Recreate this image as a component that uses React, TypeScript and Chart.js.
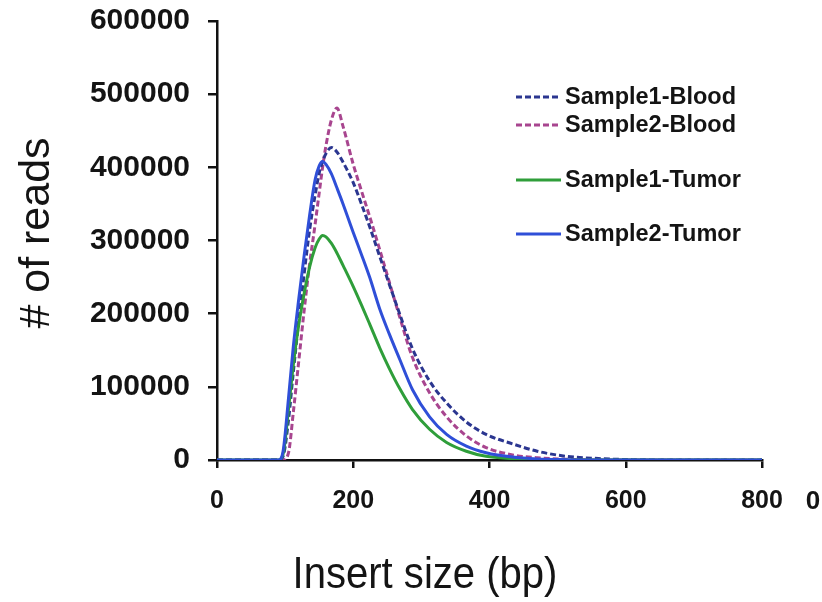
import React, { useEffect, useRef } from "react";
import { Chart, registerables } from "chart.js";

Chart.register(...registerables);

const insertSizes = [0, 90, 97, 105, 112, 120, 128, 136, 144, 150, 155, 160, 168, 176, 185, 200, 212, 224, 239, 253, 268, 287, 312, 337, 366, 395, 434, 470, 513, 560, 610, 700, 800];

const sample1Blood = [0, 0, 5000, 55000, 120000, 190000, 255000, 315000, 362000, 392000, 408000, 419000, 427000, 421000, 407000, 379000, 350000, 319000, 278000, 240000, 200000, 152000, 108000, 78000, 52000, 35000, 22000, 12000, 5000, 2000, 500, 0, 0];
const sample2Blood = [0, 0, 0, 10000, 65000, 135000, 205000, 268000, 322000, 365000, 400000, 430000, 465000, 481000, 456000, 404000, 368000, 333000, 287000, 243000, 196000, 140000, 92000, 59000, 33000, 17000, 7000, 3000, 1000, 0, 0, 0, 0];
const sample1Tumor = [0, 0, 8000, 70000, 130000, 185000, 228000, 264000, 290000, 302000, 307000, 305000, 296000, 283000, 266000, 237000, 212000, 186000, 153000, 125000, 98000, 69000, 42000, 24000, 12000, 5000, 2000, 500, 0, 0, 0, 0, 0];
const sample2Tumor = [0, 0, 12000, 85000, 155000, 220000, 280000, 335000, 383000, 402000, 408000, 404000, 391000, 372000, 350000, 311000, 281000, 250000, 206000, 172000, 138000, 96000, 59000, 35000, 19000, 10000, 4000, 1500, 500, 0, 0, 0, 0];

const seriesNames = ["Sample1-Blood", "Sample2-Blood", "Sample1-Tumor", "Sample2-Tumor"];
const xTicks = [0, 200, 400, 600, 800];
const yTicks = [0, 100000, 200000, 300000, 400000, 500000, 600000];
const xTitle = "Insert size (bp)";
const yTitle = "# of reads";
const strayLabel = "0";

const ARIAL = '"Liberation Sans", Arial, sans-serif';

const toPoints = (vals: number[]) => insertSizes.map((x, i) => ({ x, y: vals[i] }));

const legendRows = [97, 125, 180, 234];

const overlayPlugin = {
  id: "overlay",
  afterDraw(chart: any) {
    const ctx = chart.ctx as CanvasRenderingContext2D;
    ctx.save();
    ctx.fillStyle = "#141414";
    ctx.font = `43px ${ARIAL}`;
    ctx.textAlign = "center";
    ctx.textBaseline = "middle";
    ctx.save();
    ctx.translate(37, 233);
    ctx.rotate(-Math.PI / 2);
    ctx.fillText(yTitle, 0, 0);
    ctx.restore();
    ctx.save();
    ctx.translate(425, 576);
    ctx.scale(0.89, 1);
    ctx.font = `45px ${ARIAL}`;
    ctx.fillText(xTitle, 0, 0);
    ctx.restore();
    ctx.font = `bold 26px ${ARIAL}`;
    ctx.fillText(strayLabel, 813, 502);
    chart.data.datasets.forEach((ds: any, i: number) => {
      const y = legendRows[i];
      ctx.beginPath();
      ctx.strokeStyle = ds.borderColor;
      ctx.lineWidth = 3;
      ctx.setLineDash(ds.borderDash || []);
      ctx.moveTo(516, y);
      ctx.lineTo(561, y);
      ctx.stroke();
      ctx.setLineDash([]);
      ctx.fillStyle = "#141414";
      ctx.font = `bold 23.5px ${ARIAL}`;
      ctx.textAlign = "left";
      ctx.textBaseline = "middle";
      ctx.fillText(ds.label, 565, y + 1);
    });
    ctx.restore();
  },
};

export default function App() {
  const ref = useRef<HTMLCanvasElement | null>(null);
  useEffect(() => {
    if (!ref.current) return;
    const chart = new Chart(ref.current, {
      type: "line",
      data: {
        datasets: [
          { label: seriesNames[0], data: toPoints(sample1Blood), borderColor: "#2b3690", borderDash: [6, 3], borderWidth: 3, order: 2 },
          { label: seriesNames[1], data: toPoints(sample2Blood), borderColor: "#a8458f", borderDash: [6, 3], borderWidth: 3, order: 3 },
          { label: seriesNames[2], data: toPoints(sample1Tumor), borderColor: "#2f9e3a", borderWidth: 3, order: 1 },
          { label: seriesNames[3], data: toPoints(sample2Tumor), borderColor: "#2f4fd8", borderWidth: 3, order: 0 },
        ].map((d) => ({ ...d, pointRadius: 0, fill: false, cubicInterpolationMode: "monotone" as const })),
      },
      options: {
        responsive: true,
        maintainAspectRatio: false,
        animation: false,
        layout: { padding: { top: 21, right: 60, bottom: 0, left: 0 } },
        plugins: { legend: { display: false }, tooltip: { enabled: false } },
        scales: {
          x: {
            type: "linear",
            min: 0,
            max: 800,
            afterFit: (s: any) => { s.height = 142; s.paddingLeft = 0; s.paddingRight = 0; },
            afterBuildTicks: (s: any) => { s.ticks = xTicks.map((v) => ({ value: v })); },
            ticks: { color: "#141414", padding: 18, font: { family: ARIAL, size: 25, weight: "bold" } },
            grid: { display: true, drawOnChartArea: false, drawTicks: true, tickLength: 8, color: "#111", lineWidth: 2.5 },
            border: { display: true, color: "#111", width: 2.5 },
          },
          y: {
            min: 0,
            max: 600000,
            afterFit: (s: any) => { s.width = 217; s.paddingTop = 0; s.paddingBottom = 0; },
            afterBuildTicks: (s: any) => { s.ticks = yTicks.map((v) => ({ value: v })); },
            ticks: { color: "#141414", padding: 18, font: { family: ARIAL, size: 30, weight: "bold" }, callback: (v: any) => String(v) },
            grid: { display: true, drawOnChartArea: false, drawTicks: true, tickLength: 9, color: "#111", lineWidth: 2.5 },
            border: { display: true, color: "#111", width: 2.5 },
          },
        },
      },
      plugins: [overlayPlugin],
    });
    return () => chart.destroy();
  }, []);
  return (
    <div style={{ position: "absolute", left: 0, top: 0, width: 822, height: 602, background: "#fff" }}>
      <canvas ref={ref} />
    </div>
  );
}
